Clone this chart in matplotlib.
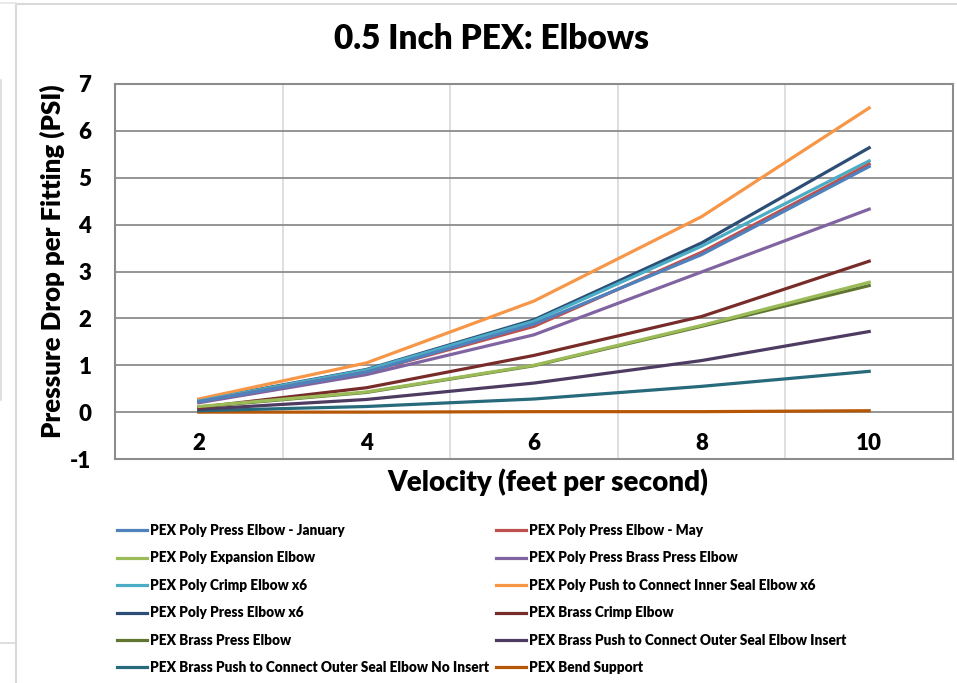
import numpy as np
import matplotlib
matplotlib.use("Agg")
import matplotlib.pyplot as plt
from matplotlib.lines import Line2D

plt.rcParams['font.family'] = ['Lato', 'DejaVu Sans']
plt.rcParams['font.weight'] = 'bold'
plt.rcParams['axes.unicode_minus'] = False

# velocity (feet per second)
velocity = [2, 4, 6, 8, 10]

# pressure drop per fitting (PSI)
jan = [0.22, 0.85, 1.88, 3.36, 5.24]
may = [0.22, 0.85, 1.83, 3.41, 5.29]
expansion = [0.12, 0.43, 1.00, 1.85, 2.77]
brass_press_poly = [0.20, 0.80, 1.65, 2.99, 4.33]
crimp_x6 = [0.24, 0.90, 1.94, 3.54, 5.36]
push_inner_x6 = [0.28, 1.05, 2.37, 4.17, 6.49]
press_x6 = [0.25, 0.91, 1.97, 3.61, 5.64]
brass_crimp = [0.10, 0.52, 1.21, 2.04, 3.22]
brass_press = [0.11, 0.42, 0.99, 1.83, 2.70]
outer_insert = [0.06, 0.27, 0.62, 1.10, 1.72]
outer_no_insert = [0.03, 0.12, 0.28, 0.55, 0.87]
bend_support = [0.00, 0.00, 0.01, 0.01, 0.03]

names = [
    "PEX Poly Press Elbow - January",
    "PEX Poly Press Elbow - May",
    "PEX Poly Expansion Elbow",
    "PEX Poly Press Brass Press Elbow",
    "PEX Poly Crimp Elbow x6",
    "PEX Poly Push to Connect Inner Seal Elbow x6",
    "PEX Poly Press Elbow x6",
    "PEX Brass Crimp Elbow",
    "PEX Brass Press Elbow",
    "PEX Brass Push to Connect Outer Seal Elbow Insert",
    "PEX Brass Push to Connect Outer Seal Elbow No Insert",
    "PEX Bend Support",
]
series = [jan, may, expansion, brass_press_poly, crimp_x6, push_inner_x6,
          press_x6, brass_crimp, brass_press, outer_insert, outer_no_insert,
          bend_support]
colors = ["#4F81BD", "#C0504D", "#9BBB59", "#8064A2", "#4BACC6", "#F79646",
          "#2C4D75", "#772C2A", "#5F7530", "#4D3B62", "#276A7C", "#B65708"]

W, H = 957, 683
fig = plt.figure(figsize=(W / 100, H / 100), dpi=100)
ax = fig.add_axes([115 / W, 1 - 459 / H, (953 - 115) / W, (459 - 84) / H])

handles = []
# drawn in reverse so the first series sits on top
for i in reversed(range(len(series))):
    h, = ax.plot(velocity, series[i], color=colors[i], lw=2.3,
                 solid_joinstyle='round', zorder=3 + len(series) - i)
    handles.insert(0, h)

ax.set_xlim(1, 11)
ax.set_ylim(-1, 7)
ax.set_yticks(range(-1, 8))
ax.set_xticks(velocity)
ax.set_xticklabels([str(v) for v in velocity])

# category boundaries
for xb in [3, 5, 7, 9]:
    ax.axvline(xb, color="#D9D9D9", lw=1.2, zorder=1)
for yv in range(0, 7):
    ax.axhline(yv, color="#8C8C8C", lw=1.3, zorder=2)

for s in ax.spines.values():
    s.set_color("#8C8C8C")
    s.set_linewidth(1.5)

ax.tick_params(axis='both', length=0, labelsize=16)
ax.tick_params(axis='x', pad=-19)
ax.tick_params(axis='y', pad=17)
for lab in ax.get_xticklabels() + ax.get_yticklabels():
    lab.set_fontweight('heavy')

fig.text(492 / W, 1 - 39 / H, "0.5 Inch PEX: Elbows", ha='center', va='center',
         fontsize=24, fontweight='heavy')
fig.text(548 / W, 1 - 482 / H, "Velocity (feet per second)", ha='center', va='center',
         fontsize=20, fontweight='heavy')
fig.text(52 / W, 1 - 261 / H, "Pressure Drop per Fitting (PSI)", ha='center', va='center',
         rotation=90, fontsize=18.5, fontweight='heavy')

# legend: two columns, filled across rows
leg_kw = dict(frameon=False, handlelength=2.2, handletextpad=0.25,
              labelspacing=1.06, borderpad=0, borderaxespad=0, loc='upper left',
              prop={'size': 9.8, 'weight': 'heavy'})
fig.legend(handles[0::2], names[0::2], bbox_to_anchor=(117 / W, 1 - 524 / H), **leg_kw)
fig.legend(handles[1::2], names[1::2], bbox_to_anchor=(496 / W, 1 - 524 / H), **leg_kw)

# surrounding panel borders
fig.add_artist(Line2D([17 / W, 1], [1 - 4 / H] * 2, color="#D9D9D9", lw=1.5))
fig.add_artist(Line2D([16 / W] * 2, [0, 1 - 4 / H], color="#D9D9D9", lw=1.5))
fig.add_artist(Line2D([0, 16 / W], [1 - 3 / H] * 2, color="#E6E6E6", lw=1.2))
fig.add_artist(Line2D([0, 16 / W], [1 - 643 / H] * 2, color="#D9D9D9", lw=1.2))
fig.add_artist(Line2D([1 / W] * 2, [1 - 80 / H, 1 - 400 / H], color="#D9D9D9", lw=1.2))

fig.savefig("out.png", dpi=100)
